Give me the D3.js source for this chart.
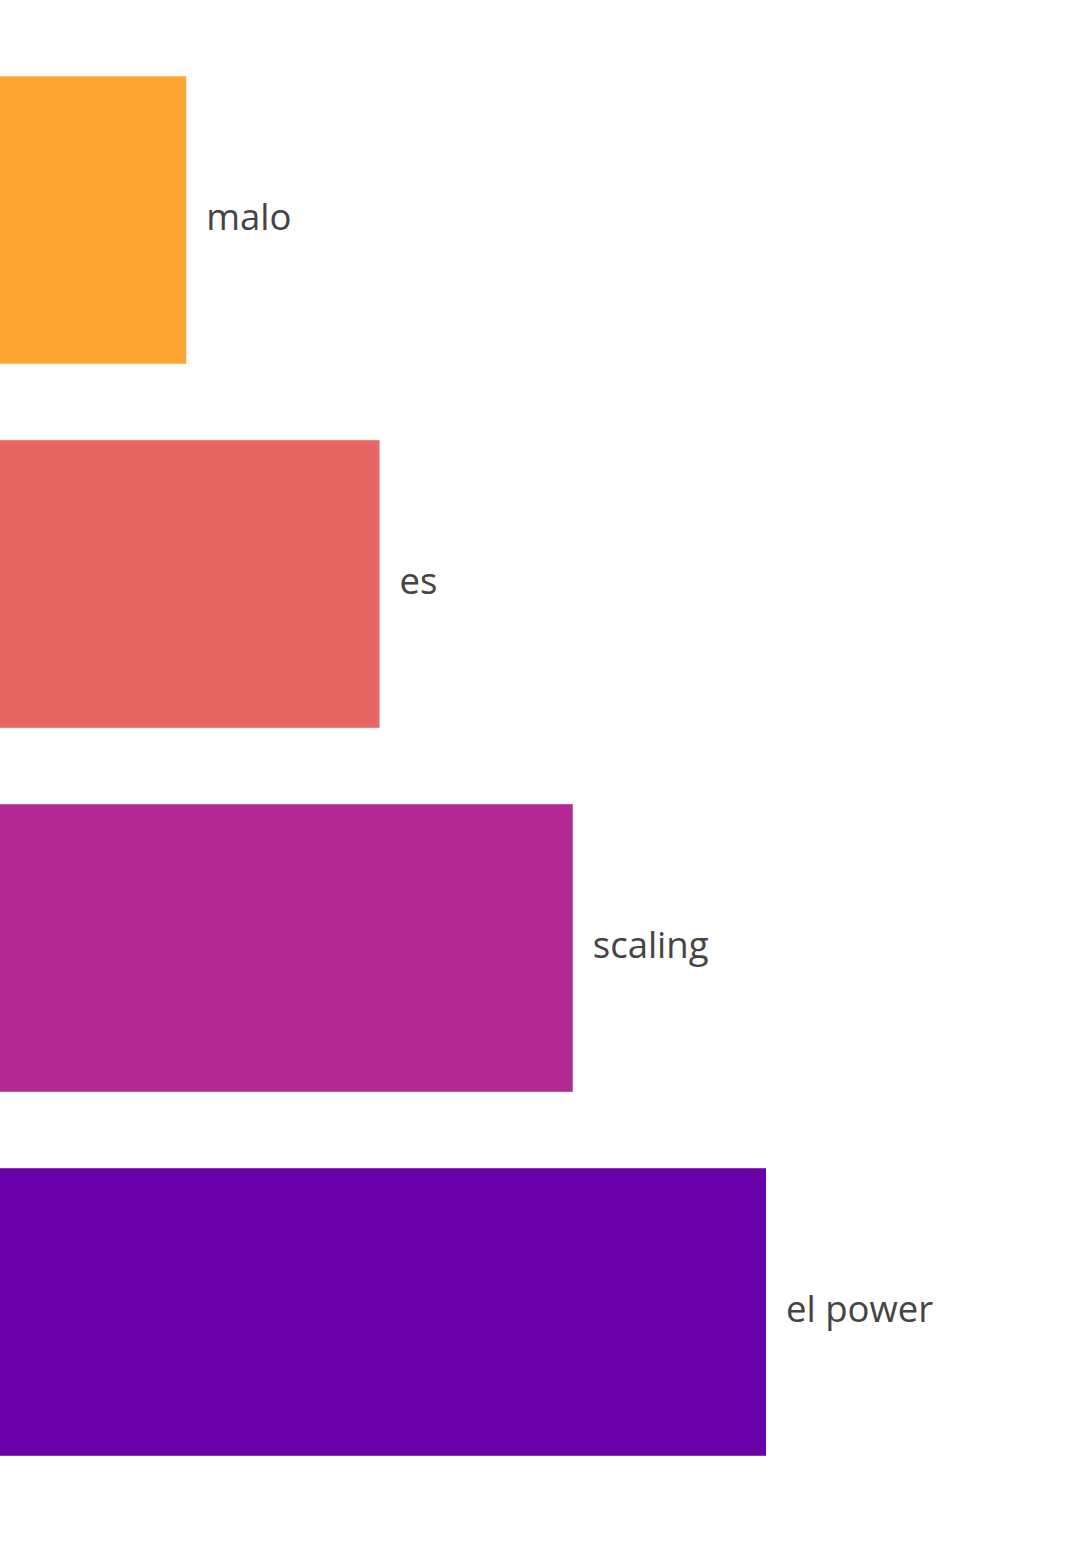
<!DOCTYPE html>
<html><head><meta charset="utf-8">
<script src="https://cdn.jsdelivr.net/npm/d3@7"></script>
<style>html,body{margin:0;padding:0;background:#fff;overflow:hidden}</style>
</head><body>
<svg id="chart" width="1080" height="1541"></svg>
<script>
const categories = ["malo", "es", "scaling", "el power"];
const values = [1, 2, 3, 4];
const colors = ["#fea632", "#e56662", "#b42891", "#6a00a8"];

const svg = d3.select("#chart");
const x = d3.scaleLinear().domain([0, 4]).range([-7, 766]);
const y = d3.scaleBand().domain(categories).range([38, 1494])
  .paddingInner(0.21).paddingOuter(0.105);

const data = categories.map((c, i) => ({c, v: values[i], col: colors[i]}));

svg.selectAll("rect.bar").data(data).join("rect")
  .attr("class", "bar")
  .attr("x", x(0))
  .attr("y", d => y(d.c))
  .attr("width", d => x(d.v) - x(0))
  .attr("height", y.bandwidth())
  .attr("fill", d => d.col);

svg.selectAll("text.lbl").data(data).join("text")
  .attr("class", "lbl")
  .attr("x", d => x(d.v) + 20)
  .attr("y", d => y(d.c) + y.bandwidth() / 2)
  .attr("dominant-baseline", "middle")
  .attr("font-family", "'Open Sans', 'Noto Sans', sans-serif")
  .attr("font-size", 36.5)
  .attr("fill", "#444")
  .text(d => d.c);
</script>
</body></html>
